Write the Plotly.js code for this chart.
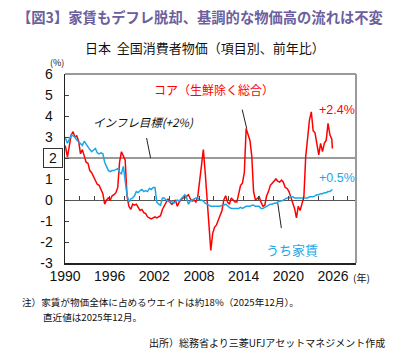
<!DOCTYPE html>
<html><head><meta charset="utf-8">
<script src="https://cdn.plot.ly/plotly-3.0.1.min.js"></script>
<style>html,body{margin:0;padding:0;background:#fff;}#chart{width:403px;height:353px;}</style>
</head><body><div id="chart"></div>
<script>
// Dates (quarterly samples, plus latest month)
const dates = ['1990-01'];
const years = [];
for (let y = 1990; y <= 2025; y++) years.push(y);
years.forEach(y => ['02','05','08','11'].forEach(m => dates.push(y + '-' + m)));
dates.push('2025-12');

// Core CPI (ex fresh food), YoY %
const coreCPI = [2.6,
 2.5,2.05,2.6,3.1,   3.25,3.0,3.05,2.8,   2.2,2.4,2.1,1.8,   1.75,1.4,1.3,1.1,
 0.95,0.75,0.7,0.5,  0.3,-0.2,0.0,0.1,    0.0,0.2,0.25,0.35, 0.6,1.8,2.3,2.1,
 1.9,0.2,-0.3,-0.45, -0.2,-0.25,-0.2,-0.35, -0.5,-0.45,-0.6,-0.65, -0.8,-0.85,-0.9,-0.85,
 -0.8,-0.85,-0.8,-0.75, -0.45,-0.3,-0.1,0.05, -0.1,-0.2,-0.15,0.0, -0.3,-0.1,0.0,0.1,
 0.1,0.2,0.25,0.05,  -0.05,0.0,-0.1,0.15, 1.0,1.6,2.4,1.3,   0.0,-1.1,-2.4,-1.6,
 -1.3,-1.2,-0.95,-0.8, -0.5,0.0,0.2,-0.1, -0.2,0.1,0.0,-0.1, -0.1,0.3,0.7,0.8,
 1.3,3.4,3.1,2.85,   2.1,0.4,0.0,0.1,    0.15,-0.1,-0.3,-0.25, 0.2,0.4,0.7,0.8,
 0.9,1.0,0.9,0.85,   0.95,0.85,0.6,0.55, 0.4,0.15,-0.1,-0.4, -0.85,-0.3,-0.5,-0.1,
 0.15,2.05,2.85,3.8, 4.2,3.3,3.2,2.7,    2.15,2.7,2.3,2.7,   2.85,3.65,3.1,2.9,
 2.45];

// Rent, YoY %
const rent = [3.0,
 2.9,2.7,2.9,3.1,    3.05,3.0,2.85,2.75, 2.7,2.6,2.8,2.65,   2.55,2.4,2.3,2.4,
 2.45,2.25,2.2,2.25, 2.2,1.8,1.6,1.4,    1.35,1.4,1.4,1.45,  1.5,1.3,1.25,1.6,
 0.9,0.25,-0.1,0.05, 0.1,0.2,0.4,0.35,   0.45,0.5,0.4,0.45,  0.4,0.55,0.5,0.6,
 0.6,-0.1,-0.2,-0.25, 0.1,0.1,0.0,-0.05, -0.1,-0.05,-0.15,-0.1, 0.0,-0.05,0.05,0.15,
 0.25,0.1,-0.2,-0.05, 0.0,0.05,0.1,0.1,  0.0,0.0,-0.05,-0.15, -0.2,-0.25,-0.3,-0.3,
 -0.3,-0.3,-0.3,-0.3, -0.25,-0.25,-0.2,-0.3, -0.35,-0.4,-0.4,-0.4, -0.4,-0.4,-0.35,-0.4,
 -0.35,-0.3,-0.3,-0.3, -0.25,-0.25,-0.3,-0.3, -0.3,-0.4,-0.4,-0.35, -0.3,-0.25,-0.2,-0.2,
 -0.15,-0.15,-0.1,-0.05, -0.05,0.0,0.05,0.1, 0.1,0.15,0.15,0.1, 0.1,0.1,0.1,0.1,
 0.1,0.1,0.1,0.15,   0.15,0.15,0.2,0.25, 0.25,0.3,0.3,0.35,  0.35,0.4,0.4,0.45,
 0.5];

const inflationTarget = 2;
const xTickYears = ['1990','1996','2002','2008','2014','2020','2026'];
const yTicks = [-3,-2,-1,0,1,2,3,4,5,6];

const red = '#FF0000', blue = '#1BA6E6';
const jp = '"Noto Sans CJK JP", sans-serif';
const lat = '"Liberation Sans", Arial, sans-serif';

const traces = [
  {x: dates, y: coreCPI, type: 'scatter', mode: 'lines', line: {color: red, width: 1.5}, hoverinfo: 'skip'},
  {x: dates, y: rent, type: 'scatter', mode: 'lines', line: {color: blue, width: 1.5}, xaxis: 'x2', hoverinfo: 'skip'}
];

const layout = {
  width: 403, height: 353,
  margin: {l: 65, r: 47, t: 74, b: 90},
  paper_bgcolor: '#fff', plot_bgcolor: '#fff',
  showlegend: false,
  xaxis: {
    type: 'date', range: ['1990-01-01', '2029-02-01'],
    tickvals: xTickYears.map(y => y + '-01-01'), ticktext: xTickYears,
    ticks: '', showgrid: false, zeroline: false,
    showline: true, linecolor: '#222', linewidth: 1.5,
    tickfont: {family: lat, size: 14, color: '#111'}
  },
  xaxis2: {
    type: 'date', matches: 'x', overlaying: 'x', anchor: 'free', position: 1/3,
    dtick: 'M24', tick0: '1990-01-01', ticks: 'inside', ticklen: 4, tickcolor: '#444',
    showticklabels: false, showline: false, showgrid: false, zeroline: false
  },
  yaxis: {
    range: [-3, 6], tickvals: yTicks, ticktext: yTicks.map(v => v === 2 ? '' : String(v)),
    ticks: 'inside', ticklen: 4, tickcolor: '#444',
    showgrid: false, zeroline: true, zerolinecolor: '#555', zerolinewidth: 1,
    showline: true, linecolor: '#222', linewidth: 1.5,
    tickfont: {family: lat, size: 14, color: '#111'}, ticklabelstandoff: 8
  },
  shapes: [
    {type: 'line', xref: 'paper', yref: 'y', x0: 0, x1: 1, y0: inflationTarget, y1: inflationTarget, line: {color: '#9a9a9a', width: 2}, layer: 'below'},
    {type: 'line', xref: 'paper', yref: 'paper', x0: 0, x1: 1, y0: 1, y1: 1, line: {color: '#9a9a9a', width: 2}},
    {type: 'line', xref: 'paper', yref: 'paper', x0: 1, x1: 1, y0: 0, y1: 1, line: {color: '#9a9a9a', width: 2}}
  ],
  annotations: [
    {xref: 'paper', yref: 'paper', x: -0.0756, y: 5/9, text: '2', showarrow: false,
     font: {family: lat, size: 14, color: '#111'}, bordercolor: '#333', borderwidth: 1, width: 16, height: 16, borderpad: 1},
    // Titles
    {xref: 'paper', yref: 'paper', x: (15-65)/291, y: (263-17)/189, xanchor: 'left', yanchor: 'middle',
     text: '<b>【図3】家賃もデフレ脱却、基調的な物価高の流れは不変</b>', showarrow: false,
     font: {family: jp, size: 14.3, color: '#6C5F9E'}},
    {xref: 'paper', yref: 'paper', x: (205-65)/291, y: (263-48)/189, xanchor: 'center', yanchor: 'middle',
     text: '日本  全国消費者物価（項目別、前年比）', showarrow: false,
     font: {family: jp, size: 13, color: '#111'}},
    {xref: 'paper', yref: 'paper', x: (57-65)/291, y: (263-62)/189, xanchor: 'center', yanchor: 'middle',
     text: '(%)', showarrow: false, font: {family: jp, size: 9, color: '#111'}},
    {xref: 'paper', yref: 'paper', x: (361-65)/291, y: (263-277)/189, xanchor: 'center', yanchor: 'middle',
     text: '(年)', showarrow: false, font: {family: jp, size: 10, color: '#111'}},
    // Series labels
    {xref: 'paper', yref: 'paper', x: (214-65)/291, y: (263-89)/189, xanchor: 'center', yanchor: 'middle',
     text: 'コア（生鮮除く総合）', showarrow: false, font: {family: jp, size: 12, color: red}},
    {x: '2014-06-01', y: 3.4, text: ' ', showarrow: true, arrowhead: 0, arrowwidth: 1, arrowcolor: '#222', ax: -7, ay: -29, standoff: 0},
    {xref: 'paper', yref: 'paper', x: (143-65)/291, y: (263-122)/189, xanchor: 'center', yanchor: 'middle',
     text: '<i>インフレ目標(+2%)</i>', showarrow: false, font: {family: jp, size: 11.5, color: '#111'}},
    {x: '2001-07-01', y: inflationTarget, text: ' ', showarrow: true, arrowhead: 0, arrowwidth: 1, arrowcolor: '#222', ax: -6, ay: -30, standoff: 0},
    {xref: 'paper', yref: 'paper', x: (337-65)/291, y: (263-110)/189, xanchor: 'center', yanchor: 'middle',
     text: '+2.4%', showarrow: false, font: {family: lat, size: 12.5, color: red}},
    {xref: 'paper', yref: 'paper', x: (337-65)/291, y: (263-178)/189, xanchor: 'center', yanchor: 'middle',
     text: '+0.5%', showarrow: false, font: {family: lat, size: 12.5, color: blue}},
    {xref: 'paper', yref: 'paper', x: (292-65)/291, y: (263-249)/189, xanchor: 'center', yanchor: 'middle',
     text: 'うち家賃', showarrow: false, font: {family: jp, size: 13, color: blue}},
    {x: '2018-08-01', y: -0.15, text: ' ', showarrow: true, arrowhead: 0, arrowwidth: 1, arrowcolor: '#222', ax: 5, ay: 35, standoff: 0},
    // Footnotes
    {xref: 'paper', yref: 'paper', x: (20-65)/291, y: (263-302)/189, xanchor: 'left', yanchor: 'middle',
     text: '注）家賃が物価全体に占めるウエイトは約18%（2025年12月）。', showarrow: false, font: {family: jp, size: 9.6, color: '#111'}},
    {xref: 'paper', yref: 'paper', x: (41-65)/291, y: (263-317)/189, xanchor: 'left', yanchor: 'middle',
     text: '直近値は2025年12月。', showarrow: false, font: {family: jp, size: 9.6, color: '#111'}},
    {xref: 'paper', yref: 'paper', x: (387-65)/291, y: (263-342)/189, xanchor: 'right', yanchor: 'middle',
     text: '出所）総務省より三菱UFJアセットマネジメント作成', showarrow: false, font: {family: jp, size: 10, color: '#111'}}
  ]
};

Plotly.newPlot('chart', traces, layout, {displayModeBar: false, staticPlot: true});
</script></body></html>
